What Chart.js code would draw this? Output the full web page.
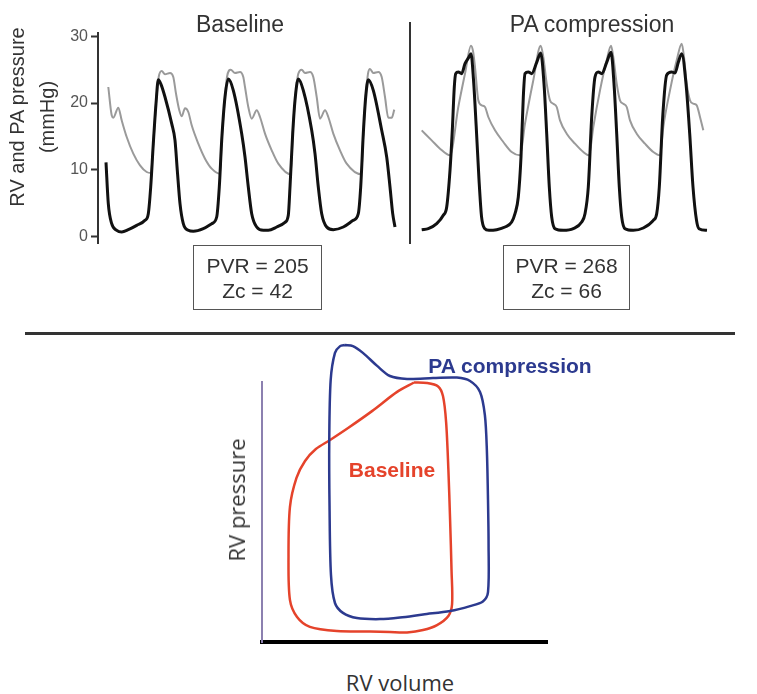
<!DOCTYPE html>
<html>
<head>
<meta charset="utf-8">
<script src="https://cdn.jsdelivr.net/npm/chart.js@4.4.0/dist/chart.umd.min.js"></script>
<style>
  body { margin: 0; background: #fff; }
  #wrap { position: relative; width: 757px; height: 694px; overflow: hidden;
          font-family: 'Liberation Sans', Arial, sans-serif; color: #333; }
  canvas { position: absolute; }
  .lbl { position: absolute; white-space: nowrap; transform: translate(-50%, -50%); }
  .rot { transform: translate(-50%, -50%) rotate(-90deg); }
  .box { position: absolute; box-sizing: border-box; height: 65px; border: 1.5px solid #555;
         text-align: center; font-size: 21px; line-height: 25px; padding-top: 7px; color: #333; }
  .sep { position: absolute; background: #333; }
</style>
</head>
<body>
<div id="wrap">
  <canvas id="baseChart" width="410" height="260" style="left:0;top:0"></canvas>
  <canvas id="compChart" width="313" height="260" style="left:412px;top:0"></canvas>
  <canvas id="loopChart" width="400" height="316" style="left:200px;top:336px"></canvas>

  <div class="lbl" style="left:240px;top:24px;font-size:23px">Baseline</div>
  <div class="lbl" style="left:592px;top:24px;font-size:23px">PA compression</div>
  <div class="lbl rot" style="left:17px;top:117px;font-size:20px">RV and PA pressure</div>
  <div class="lbl rot" style="left:47px;top:117px;font-size:20px">(mmHg)</div>
  <div class="sep" style="left:409px;top:22px;width:2px;height:222px"></div>

  <div class="box" style="left:193px;top:245px;width:129px">PVR = 205<br>Zc = 42</div>
  <div class="box" style="left:503px;top:245px;width:127px">PVR = 268<br>Zc = 66</div>

  <div class="sep" style="left:25px;top:332px;width:710px;height:3px"></div>

  <div class="lbl" style="left:510px;top:366px;font-size:21px;font-weight:bold;color:#2c3a8f">PA compression</div>
  <div class="lbl" style="left:392px;top:470px;font-size:21px;font-weight:bold;color:#e5432b">Baseline</div>
  <div class="lbl rot" style="left:236px;top:500px;font-size:22px;font-family:'Open Sans',sans-serif">RV pressure</div>
  <div class="lbl" style="left:400px;top:682px;font-size:22px;font-family:'Open Sans',sans-serif">RV volume</div>
</div>

<script>
// Baseline: RV (black) and PA (grey) pressure, time in ms, pressure in mmHg
const rvBaseT = [0, 23, 57, 107, 157, 223, 307, 390, 423, 447, 473, 500, 523, 550, 590, 657, 690, 713, 740, 773,
  823, 873, 973, 1057, 1107, 1133, 1157, 1190, 1223, 1273, 1357, 1390, 1423, 1457, 1507, 1573,
  1623, 1707, 1790, 1823, 1840, 1867, 1890, 1923, 1973, 2057, 2090, 2123, 2157, 2207, 2273,
  2373, 2473, 2523, 2547, 2573, 2597, 2623, 2673, 2757, 2807, 2840, 2867, 2890];
const rvBaseP = [11.1, 4.9, 1.9, 0.9, 0.65, 1.0, 1.65, 2.4, 3.4, 7.4, 13.9, 19.9, 23.5, 22.8, 20.9, 16.9, 14.4, 9.9, 4.9, 1.9,
  0.9, 0.75, 1.15, 1.9, 2.9, 7.4, 14.4, 20.9, 23.6, 21.9, 15.4, 11.9, 7.4, 3.4, 1.4, 0.9,
  0.9, 1.4, 2.1, 3.15, 7.4, 15.4, 20.4, 23.6, 21.9, 15.9, 12.4, 7.4, 3.4, 1.4, 1.0,
  1.4, 2.4, 3.4, 7.4, 15.4, 20.9, 23.5, 21.9, 15.9, 11.9, 7.4, 3.4, 1.4];

const paBaseT = [23, 57, 73, 123, 157, 207, 273, 340, 407, 450, 473, 500, 527, 557, 590, 640, 673, 700, 733, 757,
  790, 823, 857, 923, 990, 1057, 1140, 1157, 1190, 1210, 1247, 1290, 1340, 1373, 1390, 1423, 1457,
  1507, 1540, 1590, 1657, 1723, 1847, 1867, 1890, 1923, 1957, 1990, 2040, 2073, 2107, 2140,
  2190, 2223, 2273, 2340, 2407, 2553, 2573, 2597, 2620, 2640, 2673, 2723, 2757, 2790, 2823, 2857, 2883];
const paBaseP = [22.4, 18.15, 17.8, 19.3, 17.4, 14.9, 12.4, 10.65, 9.65, 9.5, 13.9, 19.9, 23.9, 24.8, 24.3, 24.5, 23.9, 21.4, 18.9, 18.0,
  19.2, 18.65, 16.65, 13.9, 11.65, 10.15, 9.4, 14.4, 20.9, 23.9, 25.0, 24.5, 24.65, 23.9, 22.4, 19.4, 17.65,
  18.9, 17.9, 15.4, 12.9, 10.9, 9.3, 15.4, 20.4, 24.4, 25.0, 24.5, 24.65, 23.9, 20.9, 17.65,
  18.9, 17.9, 15.4, 12.9, 10.9, 9.3, 15.4, 20.9, 24.4, 25.1, 24.5, 24.65, 23.9, 20.9, 17.8, 17.8, 19.0];

// PA compression
const rvCompT = [17, 83, 167, 233, 267, 300, 323, 343, 357, 383, 417, 450, 490, 510, 535, 562, 590, 615, 645, 690,
  767, 850, 917, 950, 983, 1010, 1033, 1050, 1083, 1117, 1167, 1207, 1240, 1267, 1293, 1317, 1350,
  1433, 1533, 1617, 1650, 1683, 1717, 1750, 1783, 1817, 1867, 1910, 1940, 1967, 1993, 2017, 2050,
  2133, 2233, 2333, 2367, 2393, 2427, 2467, 2517, 2550, 2583, 2617, 2660, 2697, 2730, 2765, 2790, 2870];
const rvCompP = [1.0, 1.15, 1.9, 3.15, 4.4, 9.9, 15.9, 22.4, 24.4, 24.65, 24.4, 25.9, 26.9, 27.4, 23.5, 16.5, 8.5, 3.0, 1.2, 0.9,
  1.0, 1.4, 2.15, 3.4, 5.9, 11.9, 20.9, 24.4, 24.65, 24.4, 26.1, 27.5, 22.9, 15.4, 7.4, 2.9, 1.15,
  0.9, 1.15, 2.15, 3.4, 7.4, 17.9, 23.9, 24.65, 24.4, 26.1, 27.6, 22.9, 15.4, 7.4, 2.9, 1.15,
  0.9, 1.25, 2.4, 3.4, 7.4, 17.9, 24.2, 24.65, 24.5, 26.1, 27.4, 22.9, 15.4, 7.4, 2.4, 1.15, 0.9];

const paCompT = [17, 117, 200, 300, 383, 450, 510, 530, 550, 583, 617, 650, 683, 750, 833, 917, 1000, 1050, 1133,
  1207, 1233, 1267, 1300, 1333, 1367, 1400, 1467, 1550, 1633, 1690, 1733, 1800, 1867,
  1910, 1933, 1967, 2000, 2033, 2067, 2100, 2167, 2250, 2333, 2400, 2433, 2500, 2567,
  2617, 2640, 2667, 2700, 2733, 2767, 2800, 2833];
const paCompP = [15.9, 14.4, 13.15, 12.15, 19.4, 24.4, 28.6, 27.8, 25.4, 20.4, 19.65, 19.4, 17.9, 15.9, 14.15, 12.65, 12.15, 16.9, 23.4,
  28.6, 26.9, 22.9, 20.4, 19.9, 19.4, 17.4, 15.4, 13.9, 12.65, 12.15, 16.4, 21.9, 26.4,
  28.6, 26.9, 22.9, 20.4, 19.9, 19.4, 17.4, 15.4, 13.9, 12.65, 12.15, 16.4, 21.9, 26.4,
  28.9, 26.9, 22.9, 20.4, 19.9, 19.65, 17.9, 15.9];

const pressureTicks = [0, 10, 20, 30];

// Pressure-volume loops (arbitrary units)
const volBase = [53.3, 57.9, 61.8, 63.5, 64.6, 65.4, 66.0, 66.5, 66.7, 65.4, 61.4, 56.5, 50.9, 44.9, 37.9,
  26.3, 16.8, 12.3, 9.8, 9.3, 9.8, 12.1, 15.1, 18.9, 23.9, 30.2, 38.6, 47.4, 53.3];
const presBase = [99.8, 99.6, 98.3, 94.6, 84.6, 66.2, 46.9, 27.7, 14.6, 10.0, 6.5, 4.6, 3.7, 3.8, 4.0,
  4.2, 5.8, 9.6, 16.2, 32.7, 51.9, 63.1, 69.6, 74.2, 77.7, 82.3, 88.8, 96.2, 99.8];
const volComp = [29.1, 31.9, 35.4, 40.4, 44.9, 50.9, 60.0, 68.4, 73.0, 76.5, 78.2, 78.9, 79.3, 79.5, 79.3, 77.5,
  73.0, 66.0, 56.5, 48.4, 41.4, 33.3, 28.4, 25.6, 24.2, 23.7, 23.6, 24.1, 25.6, 27.4, 29.1];
const presComp = [114.2, 113.8, 111.2, 106.2, 102.3, 101.2, 101.5, 101.7, 100.4, 96.2, 87.3, 73.8, 54.6, 37.3, 19.2, 15.6,
  13.8, 11.9, 10.6, 9.4, 8.8, 9.2, 11.2, 15.0, 25.8, 51.9, 77.7, 100.8, 111.2, 113.8, 114.2];

const pts = (xs, ys) => xs.map((x, i) => ({ x: x, y: ys[i] }));

function wave(t, p, color, width, order) {
    return {
        data: pts(t, p),
        borderColor: color,
        borderWidth: width,
        pointRadius: 0,
        cubicInterpolationMode: 'monotone',
        borderJoinStyle: 'round',
        order: order
    };
}

const common = {
    responsive: false,
    animation: false,
    devicePixelRatio: 1,
    plugins: { legend: { display: false }, tooltip: { enabled: false } }
};

new Chart(document.getElementById('baseChart').getContext('2d'), {
    type: 'line',
    data: {
        datasets: [
            wave(rvBaseT, rvBaseP, '#111', 3, 1),
            wave(paBaseT, paBaseP, '#9a9a9a', 2, 2)
        ]
    },
    options: Object.assign({}, common, {
        layout: { padding: { left: 0, top: 33, right: 10, bottom: 17 } },
        scales: {
            x: { type: 'linear', display: false, min: -80, max: 2940 },
            y: {
                min: -1,
                max: 30.5,
                afterFit: s => { s.width = 98; },
                afterBuildTicks: s => { s.ticks = pressureTicks.map(v => ({ value: v })); },
                ticks: { color: '#555', padding: 3, font: { family: 'Liberation Sans', size: 16 } },
                grid: { drawOnChartArea: false, drawTicks: true, tickLength: 7, tickWidth: 2, tickColor: '#333' },
                border: { color: '#333', width: 2 }
            }
        }
    })
});

// same pressure scale, no visible axis
new Chart(document.getElementById('compChart').getContext('2d'), {
    type: 'line',
    data: {
        datasets: [
            wave(rvCompT, rvCompP, '#111', 3, 1),
            wave(paCompT, paCompP, '#9a9a9a', 2, 2)
        ]
    },
    options: Object.assign({}, common, {
        layout: { padding: { left: 3, top: 33, right: 13, bottom: 17 } },
        scales: {
            x: { type: 'linear', display: false, min: -50, max: 2920 },
            y: { display: false, min: -1, max: 30.5 }
        }
    })
});

function loop(xs, ys, color) {
    return {
        data: pts(xs, ys),
        showLine: true,
        borderColor: color,
        borderWidth: 2.5,
        pointRadius: 0,
        tension: 0.3,
        clip: false
    };
}

new Chart(document.getElementById('loopChart').getContext('2d'), {
    type: 'scatter',
    data: {
        datasets: [
            loop(volComp, presComp, '#2c3a8f'),
            loop(volBase, presBase, '#e5432b')
        ]
    },
    options: Object.assign({}, common, {
        layout: { padding: { left: 62, top: 46, right: 53, bottom: 10 } },
        scales: {
            x: {
                min: 0, max: 100,
                afterFit: s => { s.height = 0; },
                ticks: { display: false },
                grid: { display: false },
                border: { color: '#000', width: 4 }
            },
            y: {
                min: 0, max: 100,
                afterFit: s => { s.width = 0; },
                ticks: { display: false },
                grid: { display: false },
                border: { color: '#8c80b0', width: 2 }
            }
        }
    })
});
</script>
</body>
</html>
